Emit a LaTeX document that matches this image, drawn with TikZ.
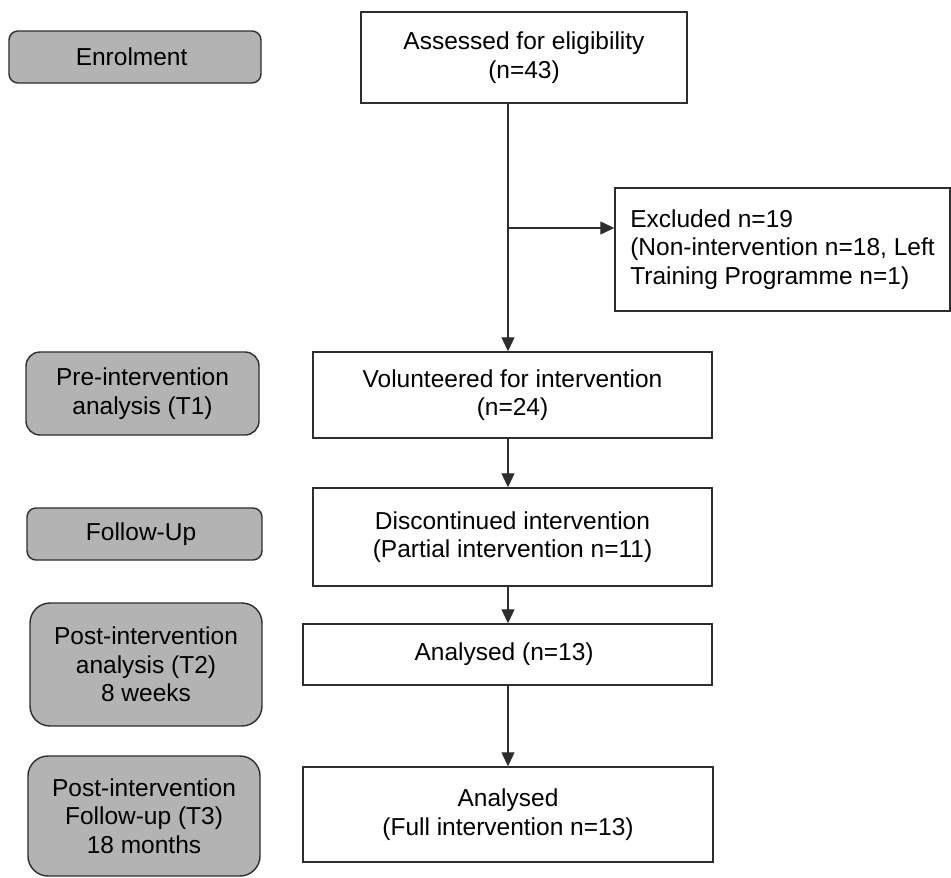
\documentclass[tikz,border=0pt]{standalone}
\usepackage{fontspec}
\setmainfont{Liberation Sans}
\usetikzlibrary{arrows.meta}
\definecolor{stagegray}{RGB}{179,179,179}
\definecolor{linegray}{RGB}{45,45,45}
\begin{document}
\begin{tikzpicture}[x=1pt, y=-1pt,
  box/.style = {draw=linegray, line width=1.4pt, fill=white, align=center, inner sep=0pt,
                font=\fontsize{24.5pt}{28.5pt}\selectfont},
  stage/.style = {box, fill=stagegray, rounded corners=#1},
  stage/.default = 9pt]
\useasboundingbox (0,0) rectangle (951,878);
\node[stage, minimum width=252, minimum height=52] (enrolment) at (135, 57) { Enrolment };
\node[stage=14pt, minimum width=233, minimum height=83] (pre_analysis) at (142.5, 393.5) { Pre-intervention\\analysis (T1) };
\node[stage, minimum width=235, minimum height=52] (follow_up) at (144.5, 534) { Follow-Up };
\node[stage=20pt, minimum width=232, minimum height=123] (post_t2) at (146, 664.5) { Post-intervention\\analysis (T2)\\8 weeks };
\node[stage=20pt, minimum width=232, minimum height=120] (post_t3) at (144, 816) { Post-intervention\\Follow-up (T3)\\18 months };

\node[box, minimum width=326, minimum height=91] (assessed) at (524, 57.5) { Assessed for eligibility\\(n=43) };
\node[box, align=left, minimum width=335, minimum height=123] (excluded) at (782.5, 249.5) { Excluded n=19\\(Non-intervention n=18, Left\\Training Programme n=1) };
\node[box, minimum width=399, minimum height=86] (volunteered) at (512.5, 395) { Volunteered for intervention\\(n=24) };
\node[box, minimum width=399, minimum height=98] (discontinued) at (512.5, 537) { Discontinued intervention\\(Partial intervention n=11) };
\node[box, minimum width=409, minimum height=61] (analysed) at (507.5, 654.5) { Analysed (n=13) };
\node[box, minimum width=410, minimum height=95] (analysed_full) at (508, 814.5) { Analysed\\(Full intervention n=13) };

\coordinate (spine) at (508, 0);
\coordinate (fork) at (508, 228);

\begin{scope}[draw=linegray, line width=1.2pt, -{Triangle[length=14pt,width=13pt]}]
\draw (assessed.south -| spine) -- (volunteered.north -| spine);
\draw (fork) -- (fork -| excluded.west);
\draw (volunteered.south -| spine) -- (discontinued.north -| spine);
\draw (discontinued.south -| spine) -- (analysed.north -| spine);
\draw (analysed.south -| spine) -- (analysed_full.north -| spine);
\end{scope}
\end{tikzpicture}
\end{document}
